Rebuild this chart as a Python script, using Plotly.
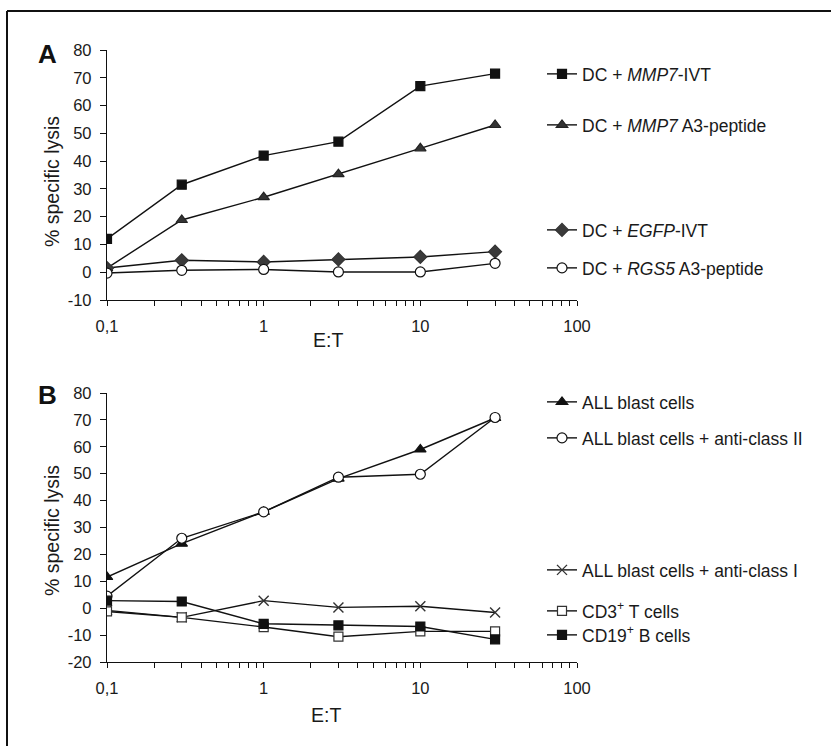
import plotly.graph_objects as go

W, H = 831, 746

et = [0.1, 0.3, 1, 3, 10, 30]

# Panel A
a_mmp7_ivt = [12, 31.5, 42, 47, 67, 71.5]
a_mmp7_pep = [1.5, 18.8, 27, 35.3, 44.6, 53]
a_egfp_ivt = [1.5, 4.3, 3.7, 4.6, 5.5, 7.4]
a_rgs5_pep = [-0.3, 0.7, 1, 0.1, 0.1, 3.2]

# Panel B
b_all = [11.6, 24, 35.8, 48.2, 59, 70.7]
b_all_ii = [4.5, 26, 35.8, 48.7, 49.8, 70.9]
b_all_i = [-0.8, -3.4, 2.8, 0.3, 0.7, -1.6]
b_cd3 = [-1.2, -3.4, -7, -10.6, -8.6, -8.6]
b_cd19 = [2.8, 2.5, -5.8, -6.4, -6.8, -11.6]

x_ticks = [0.1, 1, 10, 100]
x_ticktext = ["0,1", "1", "10", "100"]
minor_vals = [m * d for d in (0.1, 1, 10) for m in range(2, 10)]
ya_ticks = [-10, 0, 10, 20, 30, 40, 50, 60, 70, 80]
yb_ticks = [-20, -10, 0, 10, 20, 30, 40, 50, 60, 70, 80]

FONT = "Liberation Sans, Arial, sans-serif"

fig = go.Figure()

def px_x(p):
    return p / W

def px_y(p):
    return 1 - p / H

series = [
    # name, y, axes, symbol, size, fill, outline colour, legend y px
    ("DC + <i>MMP7</i>-IVT", a_mmp7_ivt, "x", "y", "square", 9, "#111111", "#111111", 74),
    ("DC + <i>MMP7</i> A3-peptide", a_mmp7_pep, "x", "y", "triangle-up", 10, "#333333", "#222222", 125),
    ("DC + <i>EGFP</i>-IVT", a_egfp_ivt, "x", "y", "diamond", 10, "#3a3a3a", "#333333", 230),
    ("DC + <i>RGS5</i> A3-peptide", a_rgs5_pep, "x", "y", "circle", 10, "white", "#111111", 268),
    ("ALL blast cells", b_all, "x2", "y2", "triangle-up", 10, "#111111", "#111111", 402),
    ("ALL blast cells + anti-class II", b_all_ii, "x2", "y2", "circle", 10, "white", "#111111", 438),
    ("ALL blast cells + anti-class I", b_all_i, "x2", "y2", "x-thin-open", 10, "#333333", "#333333", 570),
    ("CD3<sup>+</sup> T cells", b_cd3, "x2", "y2", "square", 9, "white", "#333333", 611),
    ("CD19<sup>+</sup> B cells", b_cd19, "x2", "y2", "square", 9, "#111111", "#111111", 635),
]

legend_layout = {}
for i, (name, yv, xa, ya, sym, sz, fill, lc, ly) in enumerate(series):
    lname = "legend" if i == 0 else f"legend{i+1}"
    fig.add_trace(go.Scatter(
        x=et, y=yv, xaxis=xa, yaxis=ya, name=name, mode="lines+markers",
        line=dict(color="#111111", width=1.4),
        marker=dict(symbol=sym, size=sz, color=fill,
                    line=dict(color=lc, width=1.2 if sym != "x-thin-open" else 1.4)),
        legend=lname, showlegend=True,
    ))
    legend_layout[lname] = dict(
        x=px_x(542), y=px_y(ly), xanchor="left", yanchor="middle",
        bgcolor="rgba(0,0,0,0)", borderwidth=0, itemwidth=30,
        font=dict(family=FONT, size=17.5, color="#1a1a1a"),
        tracegroupgap=0,
    )

xcommon = dict(
    type="log", range=[-1, 2], tickvals=x_ticks, ticktext=x_ticktext,
    showline=True, linecolor="#111111", linewidth=1.4, ticks="outside",
    ticklen=5, tickwidth=1.2, tickcolor="#111111", showgrid=False, zeroline=False,
    tickfont=dict(family=FONT, size=16.5, color="#1a1a1a"), ticklabelstandoff=6,
    minor=dict(tickvals=minor_vals, ticks="outside", ticklen=5, tickwidth=1.2,
               tickcolor="#111111", showgrid=False),
    domain=[px_x(107), px_x(577)], automargin=False,
)
ycommon = dict(
    showline=True, linecolor="#111111", linewidth=1.4, ticks="outside",
    ticklen=6, tickwidth=1.2, tickcolor="#111111", showgrid=False, zeroline=False,
    tickfont=dict(family=FONT, size=16.5, color="#1a1a1a"),
    ticklabelstandoff=5, automargin=False,
)

fig.update_layout(
    width=W, height=H, margin=dict(l=0, r=0, t=0, b=0, autoexpand=False),
    paper_bgcolor="white", plot_bgcolor="white",
    xaxis=dict(**xcommon, anchor="y"),
    yaxis=dict(**ycommon, range=[-10, 80], domain=[px_y(300), px_y(50)], anchor="x",
               tickvals=ya_ticks, ticktext=[str(v) for v in ya_ticks]),
    xaxis2=dict(**xcommon, anchor="y2"),
    yaxis2=dict(**ycommon, range=[-20, 80], domain=[px_y(662), px_y(393)], anchor="x2",
                tickvals=yb_ticks, ticktext=[str(v) for v in yb_ticks]),
    **legend_layout,
)

ann_font = dict(family=FONT, size=19.5, color="#1a1a1a")
annotations = [
    dict(text="E:T", x=px_x(328), y=px_y(340), font=ann_font),
    dict(text="E:T", x=px_x(326), y=px_y(715), font=ann_font),
    dict(text="% specific lysis", x=px_x(52), y=px_y(182), textangle=-90, font=ann_font),
    dict(text="% specific lysis", x=px_x(52), y=px_y(531), textangle=-90, font=ann_font),
    dict(text="<b>A</b>", x=px_x(47), y=px_y(54), font=dict(family=FONT, size=26, color="#111111")),
    dict(text="<b>B</b>", x=px_x(47), y=px_y(395), font=dict(family=FONT, size=26, color="#111111")),
]
for a in annotations:
    a.update(xref="paper", yref="paper", showarrow=False, xanchor="center", yanchor="middle")
fig.update_layout(annotations=annotations)

fig.update_layout(shapes=[
    dict(type="line", xref="paper", yref="paper", x0=px_x(7), x1=px_x(7), y0=px_y(11), y1=-0.05,
         line=dict(color="#111111", width=2)),
    dict(type="line", xref="paper", yref="paper", x0=px_x(7), x1=1.05, y0=px_y(11), y1=px_y(11),
         line=dict(color="#111111", width=2)),
])

fig.write_html(
    "out.html",
    config={"displayModeBar": False},
    post_script="document.body.style.margin='0';document.body.style.overflow='hidden';",
)
